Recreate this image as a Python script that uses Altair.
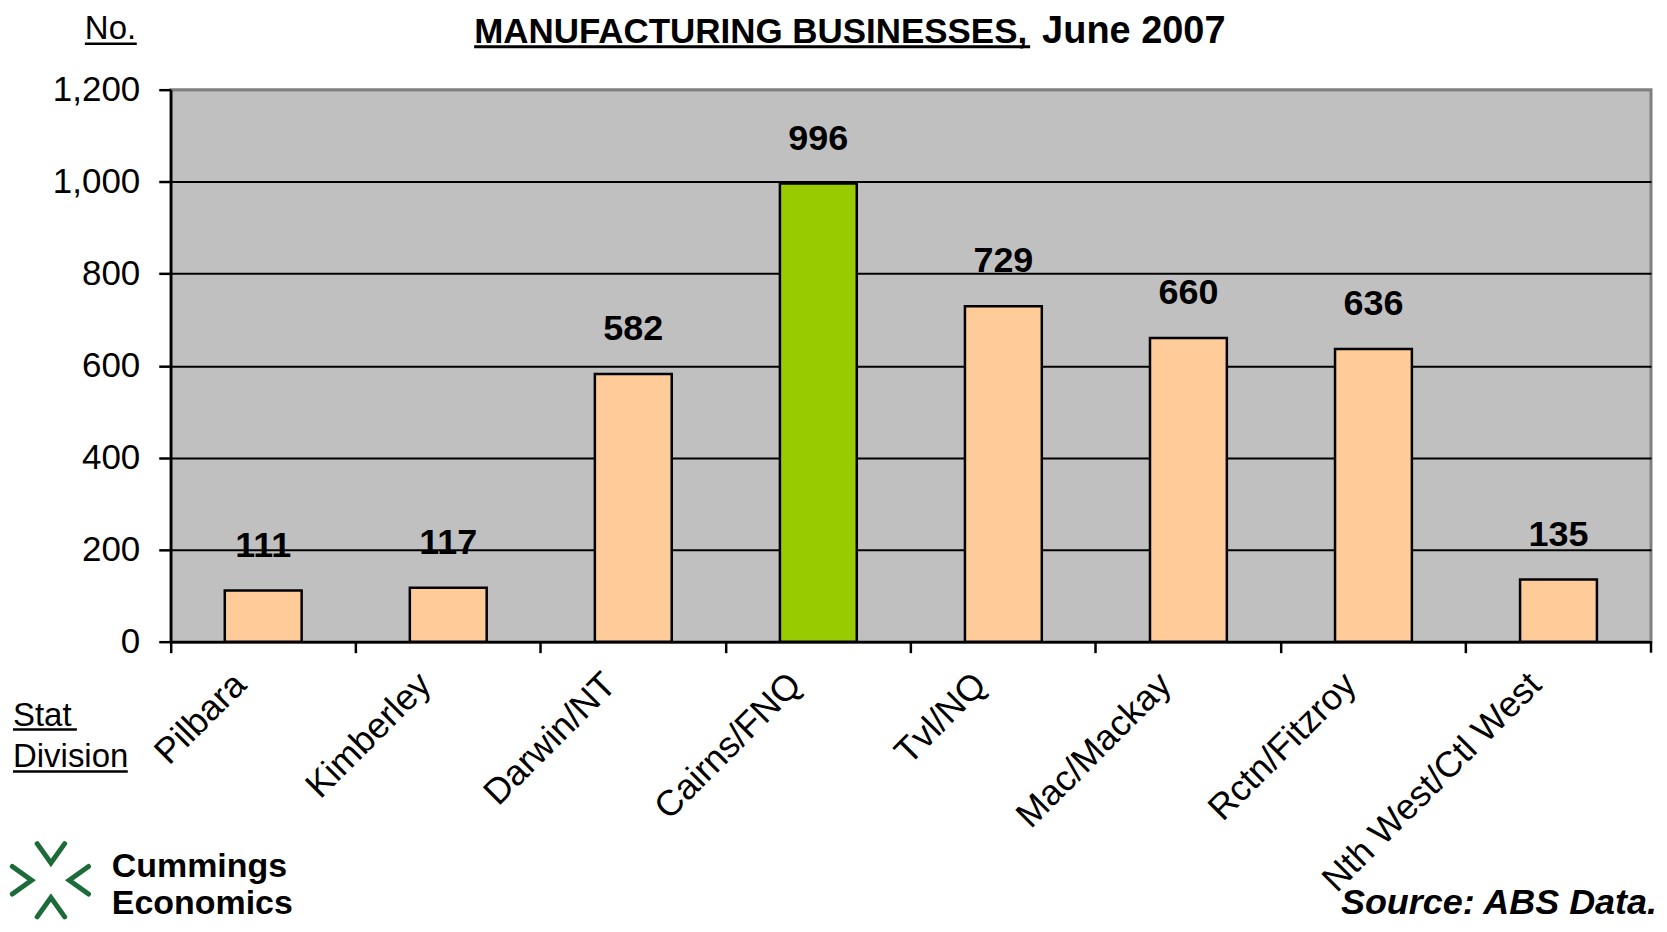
import altair as alt
import pandas as pd

# ---- data ----
categories = ["Pilbara", "Kimberley", "Darwin/NT", "Cairns/FNQ", "Tvl/NQ",
              "Mac/Mackay", "Rctn/Fitzroy", "Nth West/Ctl West"]
businesses = [111, 117, 582, 996, 729, 660, 636, 135]
highlight = "Cairns/FNQ"
y_ticks = [0, 200, 400, 600, 800, 1000, 1200]

title_main = "MANUFACTURING BUSINESSES,"
title_date = "June 2007"
y_unit = "No."
x_caption = ["Stat ", "Division"]
brand = ["Cummings", "Economics"]
source_note = "Source: ABS Data."

df = pd.DataFrame({"division": categories, "count": businesses})

W, H = 1483, 553
FONT = "Liberation Sans"
GREEN_LOGO = "#1d6b38"

x_enc = alt.X(
    "division:N", sort=categories, title=None,
    scale=alt.Scale(paddingInner=0, paddingOuter=0),
    axis=alt.Axis(bandPosition=0, labelAngle=-45, labelAlign="right",
                  labelBaseline="middle", labelOffset=-23, labelPadding=26,
                  labelFontSize=36, labelColor="black", labelFont=FONT,
                  labelLimit=0, labelOverlap=False,
                  tickSize=11, tickWidth=2.5, tickColor="black",
                  domainColor="black", domainWidth=2.5),
)
y_enc = alt.Y(
    "count:Q", title=None,
    scale=alt.Scale(domain=[0, 1200], nice=False),
    axis=alt.Axis(values=y_ticks, format=",.0f", labelFontSize=35, labelColor="black",
                  labelFont=FONT, labelPadding=19, tickSize=12, tickWidth=2.5,
                  tickColor="black", domainColor="black", domainWidth=2.5,
                  grid=True, gridWidth=2,
                  gridColor={"condition": {"test": "datum.value === 1200", "value": "#808080"},
                             "value": "black"}),
)

bars = alt.Chart(df).mark_bar(size=77, stroke="black", strokeWidth=2.5).encode(
    x=x_enc, y=y_enc,
    color=alt.condition(alt.datum.division == highlight,
                        alt.value("#99CC00"), alt.value("#FFCC99")),
)

bar_labels = alt.Chart(df).mark_text(
    dy=-45, fontSize=36, fontWeight="bold", font=FONT, color="black"
).encode(x=x_enc, y=y_enc, text="count:Q")


def note(text, x, y, size, weight="normal", style="normal", align="left"):
    return alt.Chart(pd.DataFrame({"t": [text]})).mark_text(
        align=align, baseline="alphabetic", fontSize=size, fontWeight=weight,
        fontStyle=style, font=FONT, color="black"
    ).encode(text="t:N", x=alt.value(x), y=alt.value(y))


def hline(x1, x2, y, w=3, color="black"):
    return alt.Chart(pd.DataFrame({"a": [0]})).mark_rule(color=color, strokeWidth=w).encode(
        x=alt.value(x1), x2=alt.value(x2), y=alt.value(y))


def chevron(path, x, y):
    return alt.Chart(pd.DataFrame({"a": [0]})).mark_point(
        shape=path, filled=False, size=760, strokeWidth=5, color=GREEN_LOGO,
        opacity=1, strokeCap="round", strokeJoin="miter"
    ).encode(x=alt.value(x), y=alt.value(y))


end_tick = alt.Chart(pd.DataFrame({"a": [0]})).mark_rule(color="black", strokeWidth=2.5).encode(
    x=alt.value(W), y=alt.value(H), y2=alt.value(H + 11))

layers = [
    bars, bar_labels, end_tick,
    note(title_main, 304, -47, 35, weight="bold"),
    hline(304, 861, -43, 3),
    note(title_date, 873, -47, 38, weight="bold"),
    note(y_unit, -86, -51, 33),
    hline(-86, -34, -46, 2.5),
    note(x_caption[0], -158, 637, 33),
    hline(-158, -94, 641, 2.5),
    note(x_caption[1], -158, 679, 33),
    hline(-158, -43, 683, 2.5),
    chevron("M -0.7 -1 L 0.7 0 L -0.7 1", -149, 792),
    chevron("M 0.7 -1 L -0.7 0 L 0.7 1", -92, 792),
    chevron("M -1 -0.7 L 0 0.7 L 1 -0.7", -120, 765),
    chevron("M -1 0.7 L 0 -0.7 L 1 0.7", -120, 819),
    note(brand[0], -59, 789, 34, weight="bold"),
    note(brand[1], -59, 826, 34, weight="bold"),
    note(source_note, 1489, 826, 36, weight="bold", style="italic", align="right"),
]

chart = alt.layer(*layers).properties(
    width=W, height=H,
    autosize=alt.AutoSizeParams(type="none"),
    padding={"left": 163, "top": 81, "right": 8, "bottom": 282},
).configure_view(fill="#C0C0C0", stroke="#808080", strokeWidth=3)

chart.save("out.html", embed_options={"renderer": "svg", "actions": False})
